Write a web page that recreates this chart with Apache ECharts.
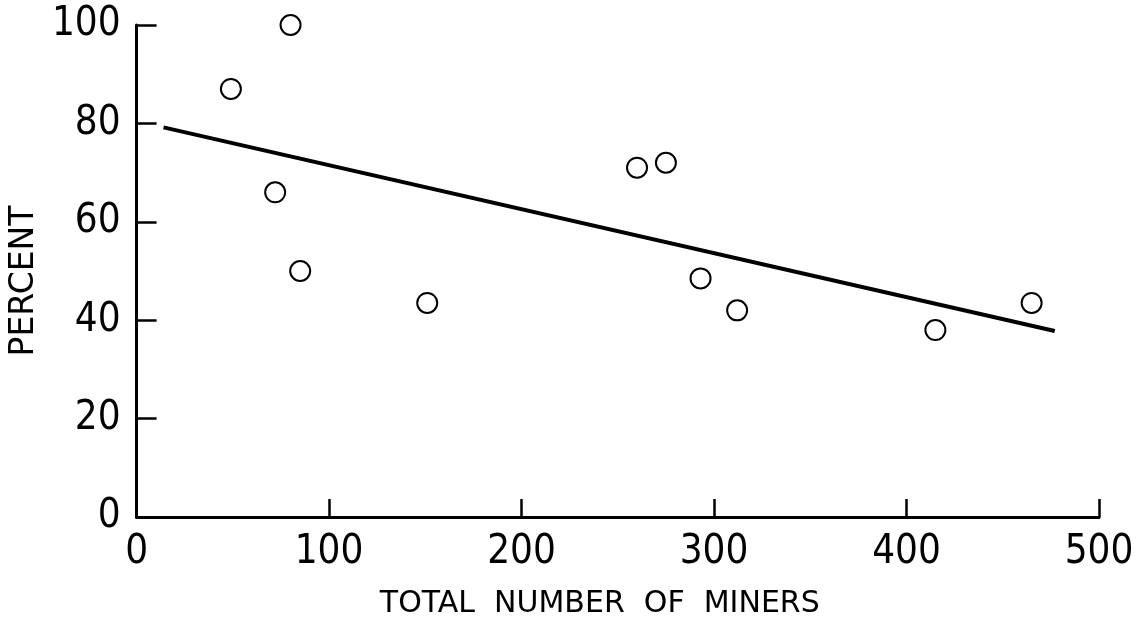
<!DOCTYPE html>
<html>
<head>
<meta charset="utf-8">
<script src="https://cdn.jsdelivr.net/npm/echarts@6/dist/echarts.min.js"></script>
<style>
  html, body { margin: 0; padding: 0; background: #fff; }
  #chart { width: 1139px; height: 634px; }
</style>
</head>
<body>
<div id="chart"></div>
<script>
// points
var minersX = [49, 80, 72, 85, 151, 260, 275, 293, 312, 415, 465];
var percentY = [87, 100, 66, 50, 43.5, 71, 72, 48.5, 42, 38, 43.5];
// fitted line ends
var fitX = [14, 477];
var fitY = [79.2, 37.8];
var xTicks = [0, 100, 200, 300, 400, 500];
var yTicks = [0, 20, 40, 60, 80, 100];

var numFont = "'Liberation Sans Narrow', 'DejaVu Sans Condensed', sans-serif";

var myChart = echarts.init(document.getElementById('chart'));
var option = {
    backgroundColor: '#fff',
    animation: false,
    grid: {
        left: 136,
        right: 40,
        top: 25,
        bottom: 117
    },
    xAxis: {
        type: 'value',
        min: xTicks[0],
        max: xTicks[xTicks.length - 1],
        interval: 100,
        name: 'TOTAL  NUMBER  OF  MINERS',
        nameLocation: 'middle',
        nameGap: 72,
        nameTextStyle: {
            color: '#000',
            fontFamily: 'DejaVu Sans',
            fontSize: 30,
            padding: [0, 36, 0, 0]
        },
        axisLine: {
            lineStyle: { color: '#000', width: 3 }
        },
        axisTick: {
            inside: true,
            length: 18,
            lineStyle: { color: '#000', width: 2.5 }
        },
        axisLabel: {
            color: '#000',
            fontFamily: numFont,
            fontSize: 40,
            margin: 16
        },
        splitLine: { show: false }
    },
    yAxis: {
        type: 'value',
        min: yTicks[0],
        max: yTicks[yTicks.length - 1],
        interval: 20,
        name: 'PERCENT',
        nameLocation: 'middle',
        nameRotate: 90,
        nameGap: 88,
        nameTextStyle: {
            color: '#000',
            fontFamily: 'DejaVu Sans',
            fontSize: 33,
            padding: [0, 20, 0, 0]
        },
        axisLine: {
            lineStyle: { color: '#000', width: 3 }
        },
        axisTick: {
            inside: true,
            length: 20,
            lineStyle: { color: '#000', width: 2.5 }
        },
        axisLabel: {
            color: '#000',
            fontFamily: numFont,
            fontSize: 40,
            margin: 16
        },
        splitLine: { show: false }
    },
    series: [
        {
            type: 'line',
            data: fitX.map(function (x, i) { return [x, fitY[i]]; }),
            symbol: 'none',
            lineStyle: { color: '#000', width: 4 },
            z: 2
        },
        {
            type: 'scatter',
            data: minersX.map(function (x, i) { return [x, percentY[i]]; }),
            symbol: 'emptyCircle',
            symbolSize: 20,
            itemStyle: { color: '#000', borderWidth: 3, opacity: 1 },
            z: 3
        }
    ]
};
myChart.setOption(option);
</script>
</body>
</html>
